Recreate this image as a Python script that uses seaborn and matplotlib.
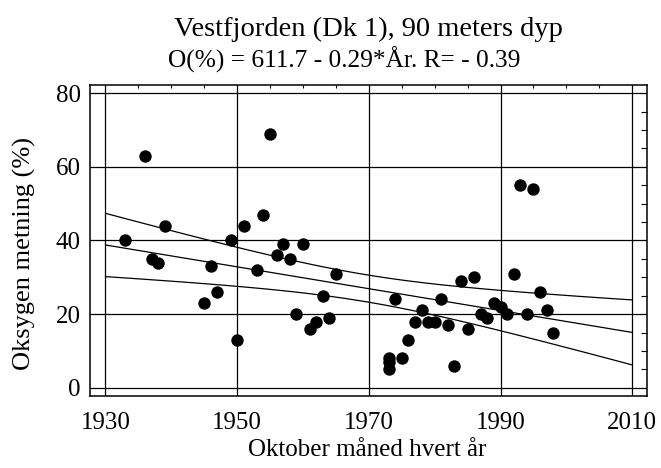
import numpy as np
import pandas as pd
import matplotlib
matplotlib.use("Agg")
import matplotlib.pyplot as plt
import seaborn as sns
from matplotlib.ticker import MultipleLocator

# Data
years = [1933, 1936, 1937, 1938, 1939, 1945, 1946, 1947, 1949, 1950,
         1951, 1953, 1954, 1955, 1956, 1957, 1958, 1959, 1960, 1961,
         1962, 1963, 1964, 1965, 1973, 1973, 1973, 1974, 1975, 1976,
         1977, 1978, 1979, 1980, 1981, 1982, 1983, 1984, 1985, 1986,
         1987, 1988, 1989, 1990, 1991, 1992, 1993, 1994, 1995, 1996,
         1997, 1998]
oxygen = [40, 63, 35, 34, 44, 23, 33, 26, 40, 13,
          44, 32, 47, 69, 36, 39, 35, 20, 39, 16,
          18, 25, 19, 31, 8, 7, 5, 24, 8, 13,
          18, 21, 18, 18, 24, 17, 6, 29, 16, 30,
          20, 19, 23, 22, 20, 31, 55, 20, 54, 26,
          21, 15]

title = "Vestfjorden (Dk 1), 90 meters dyp"
subtitle = "O(%) = 611.7 - 0.29*År. R= - 0.39"
xlabel = "Oktober måned hvert år"
ylabel = "Oksygen metning (%)"
xticks = [1930, 1950, 1970, 1990, 2010]
yticks = [0, 20, 40, 60, 80]

df = pd.DataFrame({"year": years, "oxygen": oxygen})

sns.set_style("white")
plt.rcParams["font.family"] = ["Liberation Serif", "DejaVu Serif"]
plt.rcParams["text.color"] = "black"
plt.rcParams["axes.labelcolor"] = "black"
plt.rcParams["xtick.color"] = "black"
plt.rcParams["ytick.color"] = "black"

W, H = 661, 468
fig = plt.figure(figsize=(W / 100, H / 100), dpi=100)
L, R, T, B = 90.3, 646.7, 85.0, 396.3
ax = fig.add_axes([L / W, 1 - B / H, (R - L) / W, (B - T) / H])

# regression + 95% confidence band of the mean
x = np.asarray(years, float)
y = np.asarray(oxygen, float)
n = len(x)
b, a = np.polyfit(x, y, 1)
xs = np.linspace(1930, 2010, 81)
fit = a + b * xs
resid = y - (a + b * x)
s = np.sqrt(np.sum(resid ** 2) / (n - 2))
tval = 2.009
se = s * np.sqrt(1.0 / n + (xs - x.mean()) ** 2 / np.sum((x - x.mean()) ** 2))
lines = pd.DataFrame({"x": np.concatenate([xs, xs, xs]),
                      "y": np.concatenate([fit, fit + tval * se, fit - tval * se]),
                      "k": ["m"] * len(xs) + ["u"] * len(xs) + ["l"] * len(xs)})
sns.lineplot(data=lines, x="x", y="y", units="k", estimator=None,
             color="black", lw=0.9, ax=ax, zorder=3)

sns.scatterplot(data=df, x="year", y="oxygen", color="black", s=80,
                edgecolor="black", linewidth=0, ax=ax, zorder=4)

for v in xticks:
    ax.axvline(v, color="black", lw=0.9, zorder=1)
for v in yticks:
    ax.axhline(v, color="black", lw=0.9, zorder=1)

ax.set_xlim(1927.7, 2012.2)
ax.set_ylim(-2.3, 82.2)
ax.set_xticks(xticks)
ax.set_yticks(yticks)
ax.xaxis.set_minor_locator(MultipleLocator(5))
ax.yaxis.set_minor_locator(MultipleLocator(5))
ax.tick_params(which="both", direction="in", top=True, right=True,
               labeltop=False, labelright=False, color="black",
               labelcolor="black")
ax.tick_params(axis="x", which="major", length=0, labelsize=18, pad=11)
ax.tick_params(axis="y", which="major", length=0, labelsize=18, pad=7)
ax.tick_params(axis="x", which="minor", length=2.2, width=0.8)
ax.tick_params(axis="y", which="minor", length=4.3, width=0.8)
for sp in ax.spines.values():
    sp.set_visible(True)
    sp.set_color("black")
    sp.set_linewidth(1.1)

ax.set_xlabel("")
ax.set_ylabel("")
fig.text(367 / W, 1 - 450 / H, xlabel, ha="center", va="center",
         fontsize=18, color="black")
fig.text(24 / W, 1 - 254 / H, ylabel, ha="center", va="center",
         rotation=90, fontsize=19, color="black")

fig.text(368.8 / W, 1 - 35.5 / H, title, ha="center", va="baseline",
         fontsize=20.5, color="black")
fig.text(343.7 / W, 1 - 68 / H, subtitle, ha="center", va="baseline",
         fontsize=18.3, color="black")

fig.savefig("out.png", dpi=100)
